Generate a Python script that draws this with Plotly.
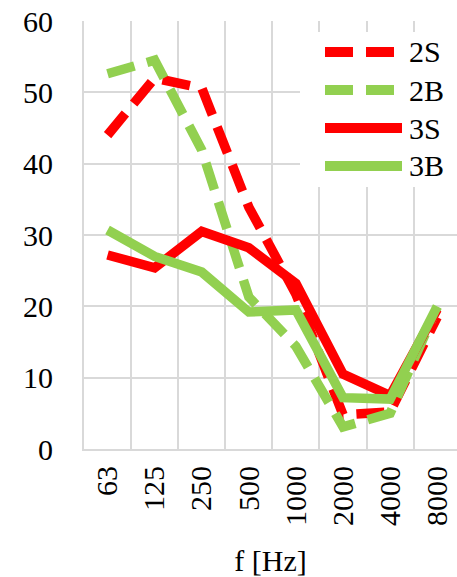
import plotly.graph_objects as go

# 频率类别
freqs = ['63', '125', '250', '500', '1000', '2000', '4000', '8000']

# 各系列数值
s2S = [44.0, 52.0, 50.6, 33.9, 21.7, 4.8, 5.2, 18.5]
s2B = [52.6, 54.5, 41.9, 21.3, 14.4, 3.1, 5.0, 19.9]
s3S = [27.2, 25.4, 30.5, 28.2, 23.2, 10.5, 7.5, 19.6]
s3B = [30.7, 27.0, 24.8, 19.2, 19.5, 7.2, 7.0, 20.0]

series_names = ['2S', '2B', '3S', '3B']
series_vals = [s2S, s2B, s3S, s3B]
series_colors = ['#FF0000', '#92D050', '#FF0000', '#92D050']
series_dash = ['28px,13px', '28px,13px', 'solid', 'solid']

FONT = 'Liberation Serif'
GRID = '#D9D9D9'

# 绘图区像素位置
L, T, B, W, H = 84, 21, 449, 457, 577


def px_x(p):
    return (p - L) / (W - L)


def px_y(p):
    return (B - p) / (B - T)


fig = go.Figure()
for name, vals, col, dash in zip(series_names, series_vals, series_colors, series_dash):
    fig.add_trace(go.Scatter(
        x=freqs, y=vals, mode='lines', name=name,
        line=dict(color=col, width=9.5, dash=dash),
        showlegend=False
    ))

# 自定义图例（白底 + 线段 + 文字）
shapes = [dict(type='rect', xref='paper', yref='paper',
               x0=px_x(300), x1=px_x(457), y0=px_y(187), y1=px_y(32),
               fillcolor='white', line=dict(width=0), layer='above')]
annotations = []
rows = [52, 90, 128, 166]
for name, col, dash, yy in zip(series_names, series_colors, series_dash, rows):
    x1 = 397 if dash != 'solid' else 402
    shapes.append(dict(type='line', xref='paper', yref='paper',
                       x0=px_x(325), x1=px_x(x1), y0=px_y(yy), y1=px_y(yy),
                       line=dict(color=col, width=10, dash=dash), layer='above'))
    annotations.append(dict(xref='paper', yref='paper', x=px_x(407), y=px_y(yy),
                            text=name, showarrow=False, xanchor='left', yanchor='middle',
                            font=dict(family=FONT, size=30, color='black')))

fig.update_layout(
    width=W, height=H,
    margin=dict(l=L, r=0, t=T, b=H - B),
    paper_bgcolor='white', plot_bgcolor='white',
    font=dict(family=FONT, size=30, color='black'),
    shapes=shapes, annotations=annotations,
    xaxis=dict(
        type='category', range=[-0.5, 7.42], tickson='boundaries',
        showgrid=True, gridcolor=GRID, gridwidth=2,
        showline=True, linecolor=GRID, linewidth=2,
        ticks='', tickangle=-90, ticklabelstandoff=3,
        tickfont=dict(family=FONT, size=30, color='black'),
        title=dict(text='f [Hz]', standoff=25, font=dict(family=FONT, size=30, color='black')),
        automargin=False
    ),
    yaxis=dict(
        range=[0, 60], dtick=10, tick0=0,
        showgrid=True, gridcolor=GRID, gridwidth=2, zeroline=False,
        showline=True, linecolor=GRID, linewidth=2,
        ticks='', ticklabelstandoff=23,
        tickfont=dict(family=FONT, size=30, color='black'),
        automargin=False
    ),
)

# 去掉页面默认边距，使图表贴齐窗口左上角
fig.write_html("out.html", config={'displayModeBar': False},
               post_script="document.body.style.margin='0';")
